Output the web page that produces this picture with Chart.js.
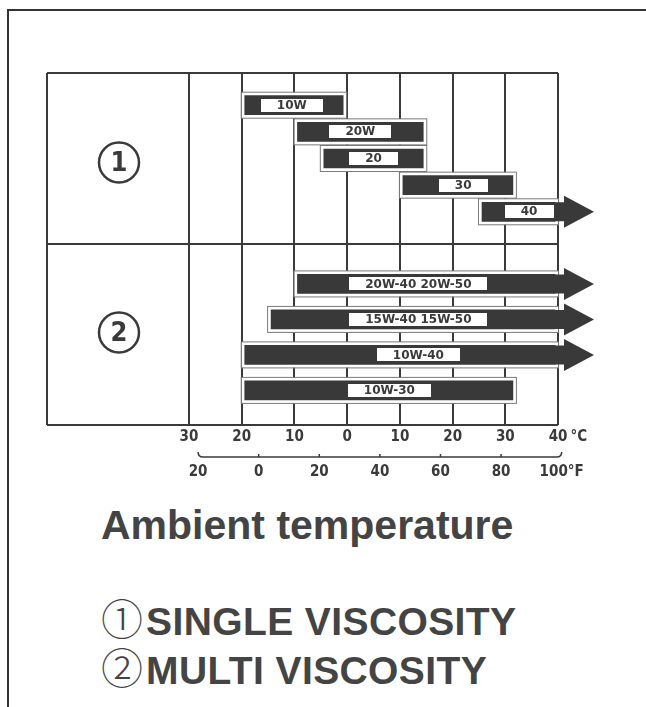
<!DOCTYPE html>
<html>
<head>
<meta charset="utf-8">
<title>Oil viscosity vs ambient temperature</title>
<script src="https://cdn.jsdelivr.net/npm/chart.js@4.4.0/dist/chart.umd.min.js"></script>
<style>
  html, body { margin: 0; padding: 0; background: #fff; }
  body { width: 646px; height: 707px; position: relative; overflow: hidden; font-family: "Liberation Sans", Arial, sans-serif; color: #444; }
  #frame { position: absolute; left: 7px; top: 9px; width: 700px; height: 760px; border-left: 2px solid #333; border-top: 2px solid #333; }
  #oilChart { position: absolute; left: 0; top: 0; }
  #axisTitle { position: absolute; left: 101px; top: 505px; font-size: 41px; font-weight: bold; line-height: 41px; white-space: nowrap; }
  .legendRow { position: absolute; left: 101px; font-size: 39px; letter-spacing: 0.4px; font-weight: bold; line-height: 38px; white-space: nowrap; }
  .legendRow .mark { font-family: "Noto Sans CJK JP", "DejaVu Sans", sans-serif; font-weight: 300; font-size: 42px; letter-spacing: 0; margin-right: 3px; }
</style>
</head>
<body>
<div id="frame"></div>
<canvas id="oilChart" width="646" height="500"></canvas>
<div id="axisTitle"></div>
<div id="legend"></div>
<script>
// Single viscosity grades and the ambient temperature range (deg C) they cover
const singleGrades = ['10W', '20W', '20', '30', '40'];
const singleFrom = [-20, -10, -5, 10, 25];
const singleTo = [0, 15, 15, 32, 40];
const singleOpenEnd = [false, false, false, false, true];
const singleLabelAt = [-10.5, 2.5, 5, 22, 34.5];

// Multi viscosity grades
const multiGrades = ['20W-40 20W-50', '15W-40 15W-50', '10W-40', '10W-30'];
const multiFrom = [-10, -15, -20, -20];
const multiTo = [40, 40, 40, 32];
const multiOpenEnd = [true, true, true, false];
const multiLabelAt = [13.5, 13.5, 13.5, 8];

const groupNumbers = ['1', '2'];
const groupMarks = ['①', '②'];
const groupNames = ['SINGLE VISCOSITY', 'MULTI VISCOSITY'];

// axis ticks
const celsiusTicks = [-30, -20, -10, 0, 10, 20, 30, 40];
const fahrenheitTicks = [-20, 0, 20, 40, 60, 80, 100];
const axisTitle = 'Ambient temperature';

const ink = '#3a3a3a';
const barColor = '#393939';
const haloWidth = 3;
const tickFamily = '"DejaVu Sans Condensed", "Liberation Sans Narrow", sans-serif';

document.addEventListener('DOMContentLoaded', function() {
  document.getElementById('axisTitle').textContent = axisTitle;
  const legend = document.getElementById('legend');
  groupNames.forEach(function(name, i) {
    const row = document.createElement('div');
    row.className = 'legendRow';
    row.style.top = (598 + i * 49) + 'px';
    const mark = document.createElement('span');
    mark.className = 'mark';
    mark.textContent = groupMarks[i];
    row.appendChild(mark);
    row.appendChild(document.createTextNode(name));
    legend.appendChild(row);
  });

  function rows(from, to) {
    return from.map(function(v, i) { return { x: [v, to[i]], y: i }; });
  }

  const barStyle = {
    backgroundColor: barColor,
    borderColor: '#fff',
    borderWidth: haloWidth,
    borderSkipped: false,
    barThickness: 25,
    grouped: false
  };

  // frame, group marks, arrows, grade labels, units and the deg F bracket
  const viscosityDecor = {
    id: 'viscosityDecor',
    beforeDatasetsDraw(chart) {
      const ctx = chart.ctx;
      const x = chart.scales.x, y1 = chart.scales.y1, y2 = chart.scales.y2;
      const right = x.getPixelForValue(40);
      ctx.save();
      ctx.strokeStyle = ink;
      ctx.lineWidth = 2;
      ctx.beginPath();
      ctx.moveTo(y1.left, y1.top); ctx.lineTo(right, y1.top);
      ctx.moveTo(y1.left, y1.bottom); ctx.lineTo(right, y1.bottom);
      ctx.moveTo(y2.left, y2.bottom); ctx.lineTo(right, y2.bottom);
      ctx.moveTo(y1.left, y1.top); ctx.lineTo(y1.left, y2.bottom);
      ctx.stroke();
      // circled group numbers
      ctx.fillStyle = ink;
      ctx.lineWidth = 2.5;
      ctx.font = 'bold 27px ' + tickFamily;
      ctx.textAlign = 'center';
      ctx.textBaseline = 'middle';
      [y1, y2].forEach(function(s, i) {
        const cx = (s.left + s.right) / 2 + 1;
        const cy = (s.top + s.bottom) / 2 + (i === 0 ? 4 : -2);
        ctx.beginPath();
        ctx.arc(cx, cy, 20, 0, Math.PI * 2);
        ctx.stroke();
        ctx.fillText(groupNumbers[i], cx, cy + 1);
      });
      ctx.restore();
    },
    afterDatasetsDraw(chart) {
      const ctx = chart.ctx;
      const xs = chart.scales.x;
      ctx.save();
      chart.data.datasets.forEach(function(ds, di) {
        chart.getDatasetMeta(di).data.forEach(function(bar, i) {
          const p = bar.getProps(['x', 'y', 'base', 'height'], true);
          const left = Math.min(p.x, p.base), right = Math.max(p.x, p.base);
          const top = p.y - p.height / 2;
          ctx.strokeStyle = '#7a7a7a';
          ctx.lineWidth = 1;
          ctx.strokeRect(left - 0.5, top - 0.5, right - left + 1, p.height + 1);
          if (ds.openEnd[i]) {
            const tip = chart.chartArea.right - 1;
            const headBase = tip - 30;
            const half = 16;
            ctx.fillStyle = barColor;
            ctx.beginPath();
            ctx.moveTo(right - haloWidth - 1, top + haloWidth);
            ctx.lineTo(headBase, top + haloWidth);
            ctx.lineTo(headBase, p.y - half);
            ctx.lineTo(tip, p.y);
            ctx.lineTo(headBase, p.y + half);
            ctx.lineTo(headBase, top + p.height - haloWidth);
            ctx.lineTo(right - haloWidth - 1, top + p.height - haloWidth);
            ctx.closePath();
            ctx.fill();
          }
          ctx.font = 'bold 12px "DejaVu Sans", sans-serif';
          const text = ds.grades[i];
          const cx = xs.getPixelForValue(ds.labelAt[i]);
          const w = ctx.measureText(text).width + 32;
          const h = p.height - 2 * haloWidth - 6;
          ctx.fillStyle = '#fff';
          ctx.fillRect(Math.round(cx - w / 2), Math.round(p.y - h / 2), Math.round(w), h);
          ctx.fillStyle = ink;
          ctx.textAlign = 'center';
          ctx.textBaseline = 'middle';
          ctx.fillText(text, cx, p.y + 0.5);
        });
      });
      ctx.restore();
    },
    afterDraw(chart) {
      const ctx = chart.ctx;
      const xs = chart.scales.x, xf = chart.scales.xf;
      ctx.save();
      ctx.fillStyle = ink;
      ctx.font = 'bold 15px ' + tickFamily;
      ctx.textAlign = 'left';
      ctx.textBaseline = 'middle';
      const w40 = ctx.measureText('40').width;
      ctx.fillText('°C', xs.getPixelForValue(40) + w40 / 2 + 3, xs.top + 3 + 9);
      // deg F bracket
      const by = xf.top + 2;
      const a = xf.getPixelForValue(fahrenheitTicks[0]);
      const b = xf.getPixelForValue(fahrenheitTicks[fahrenheitTicks.length - 1]);
      ctx.strokeStyle = ink;
      ctx.lineWidth = 1.5;
      ctx.beginPath();
      ctx.moveTo(a, by - 5);
      ctx.quadraticCurveTo(a, by, a + 5, by);
      ctx.lineTo(b - 5, by);
      ctx.quadraticCurveTo(b, by, b, by - 5);
      fahrenheitTicks.slice(1, -1).forEach(function(v) {
        const px = xf.getPixelForValue(v);
        ctx.moveTo(px, by);
        ctx.lineTo(px, by - 3);
      });
      ctx.stroke();
      ctx.restore();
    }
  };

  const ctx = document.getElementById('oilChart').getContext('2d');
  new Chart(ctx, {
    type: 'bar',
    data: {
      datasets: [Object.assign({
        data: rows(singleFrom, singleTo),
        yAxisID: 'y1',
        grades: singleGrades,
        labelAt: singleLabelAt,
        openEnd: singleOpenEnd
      }, barStyle), Object.assign({
        data: rows(multiFrom, multiTo),
        yAxisID: 'y2',
        grades: multiGrades,
        labelAt: multiLabelAt,
        openEnd: multiOpenEnd
      }, barStyle)]
    },
    options: {
      responsive: false,
      animation: false,
      events: [],
      indexAxis: 'y',
      layout: { padding: { left: 47, right: 51, top: 73, bottom: 0 } },
      plugins: { legend: { display: false }, tooltip: { enabled: false }, colors: { enabled: false } },
      scales: {
        x: {
          type: 'linear',
          position: 'bottom',
          weight: 0,
          min: -30,
          max: 47, // room for the open-end arrows
          afterBuildTicks: function(scale) {
            scale.ticks = celsiusTicks.map(function(v) { return { value: v }; });
          },
          afterFit: function(scale) { scale.height = 30; },
          grid: { color: ink, lineWidth: 2, drawTicks: false },
          border: { display: false },
          ticks: {
            autoSkip: false,
            padding: 3,
            color: ink,
            font: { family: tickFamily, size: 15, weight: 'bold' },
            callback: function(v) { return String(Math.abs(v)); }
          }
        },
        xf: {
          type: 'linear',
          position: 'bottom',
          weight: 1,
          min: -23,
          max: 111,
          afterBuildTicks: function(scale) {
            scale.ticks = fahrenheitTicks.map(function(v) { return { value: v }; });
          },
          afterFit: function(scale) { scale.height = 45; },
          grid: { display: false, drawTicks: false },
          border: { display: false },
          ticks: {
            autoSkip: false,
            padding: 8,
            color: ink,
            font: { family: tickFamily, size: 15, weight: 'bold' },
            callback: function(v) { return Math.abs(v) + (v === 100 ? '°F' : ''); }
          }
        },
        y1: {
          type: 'linear',
          position: 'left',
          stack: 'rows',
          stackWeight: 171,
          weight: 1,
          reverse: true,
          min: -0.75,
          max: 4.75,
          afterFit: function(scale) { scale.width = 142; },
          grid: { display: false },
          border: { display: false },
          ticks: { display: false }
        },
        y2: {
          type: 'linear',
          position: 'left',
          stack: 'rows',
          stackWeight: 181,
          weight: 0,
          reverse: true,
          min: -0.7,
          max: 3.55,
          afterFit: function(scale) { scale.width = 142; },
          grid: { display: false },
          border: { display: false },
          ticks: { display: false }
        }
      }
    },
    plugins: [viscosityDecor]
  });
});
</script>
</body>
</html>
